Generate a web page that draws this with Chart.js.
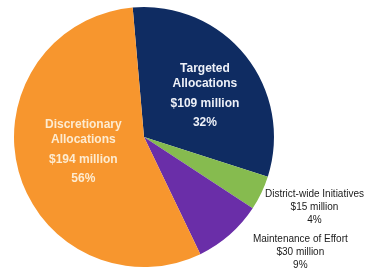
<!DOCTYPE html>
<html>
<head>
<meta charset="utf-8">
<script src="https://cdn.jsdelivr.net/npm/chart.js@4"></script>
<style>
  html, body { margin: 0; padding: 0; background: #fff; }
  #wrap { width: 375px; height: 270px; }
</style>
</head>
<body>
<div id="wrap"><canvas id="budgetPie" width="375" height="270"></canvas></div>
<script>
// slice data, clockwise from the top
const categories = ["Targeted Allocations", "District-wide Initiatives", "Maintenance of Effort", "Discretionary Allocations"];
const amounts = [109, 15, 30, 194]; // $ million
const amountLabels = ["$109 million", "$15 million", "$30 million", "$194 million"];
const percentLabels = ["32%", "4%", "9%", "56%"];
const nameLines = [["Targeted", "Allocations"], ["District-wide Initiatives"], ["Maintenance of Effort"], ["Discretionary", "Allocations"]];

const sliceColors = ["#0f2c62", "#86bb4f", "#6a2ea8", "#f7962e"];

// where each label sits: fraction of radius along the slice middle, plus a nudge
const labelPlace = [
  { r: 0.6, dx: 0, dy: 7, inside: true, color: "#eef1f8" },
  { r: 1.3, dx: 18, dy: -3, inside: false, color: "#1a1a1a" },
  { r: 1.3, dx: 45, dy: -12, inside: false, color: "#1a1a1a" },
  { r: 0.5, dx: 2, dy: -3, inside: true, color: "#fdebd0" },
];

const sliceLabels = {
  id: "sliceLabels",
  afterDatasetsDraw(chart) {
    const ctx = chart.ctx;
    const meta = chart.getDatasetMeta(0);
    meta.data.forEach(function (arc, i) {
      const p = arc.getProps(["x", "y", "startAngle", "endAngle", "outerRadius"], true);
      const mid = (p.startAngle + p.endAngle) / 2;
      const place = labelPlace[i];
      const cx = p.x + Math.cos(mid) * p.outerRadius * place.r + place.dx;
      const cy = p.y + Math.sin(mid) * p.outerRadius * place.r + place.dy;
      let lines, gaps;
      if (place.inside) {
        lines = nameLines[i].concat([amountLabels[i], percentLabels[i]]);
        gaps = [-27, -12, 8, 27];
        ctx.font = "bold 12px 'Liberation Sans', Arial, sans-serif";
      } else {
        lines = nameLines[i].concat([amountLabels[i], percentLabels[i]]);
        gaps = [-13, 0, 13];
        ctx.font = "10px 'Liberation Sans', Arial, sans-serif";
      }
      ctx.save();
      ctx.fillStyle = place.color;
      ctx.textAlign = "center";
      ctx.textBaseline = "middle";
      lines.forEach(function (t, k) {
        ctx.fillText(t, cx, cy + gaps[k]);
      });
      ctx.restore();
    });
  },
};

new Chart(document.getElementById("budgetPie"), {
  type: "pie",
  data: {
    labels: categories,
    datasets: [
      {
        data: amounts,
        backgroundColor: sliceColors,
        borderColor: sliceColors,
        borderWidth: 0,
      },
    ],
  },
  options: {
    responsive: false,
    animation: false,
    rotation: -5,
    layout: {
      padding: { left: 14, right: 101, top: 7, bottom: 3 },
    },
    plugins: {
      legend: { display: false },
      tooltip: { enabled: false },
    },
  },
  plugins: [sliceLabels],
});
</script>
</body>
</html>
